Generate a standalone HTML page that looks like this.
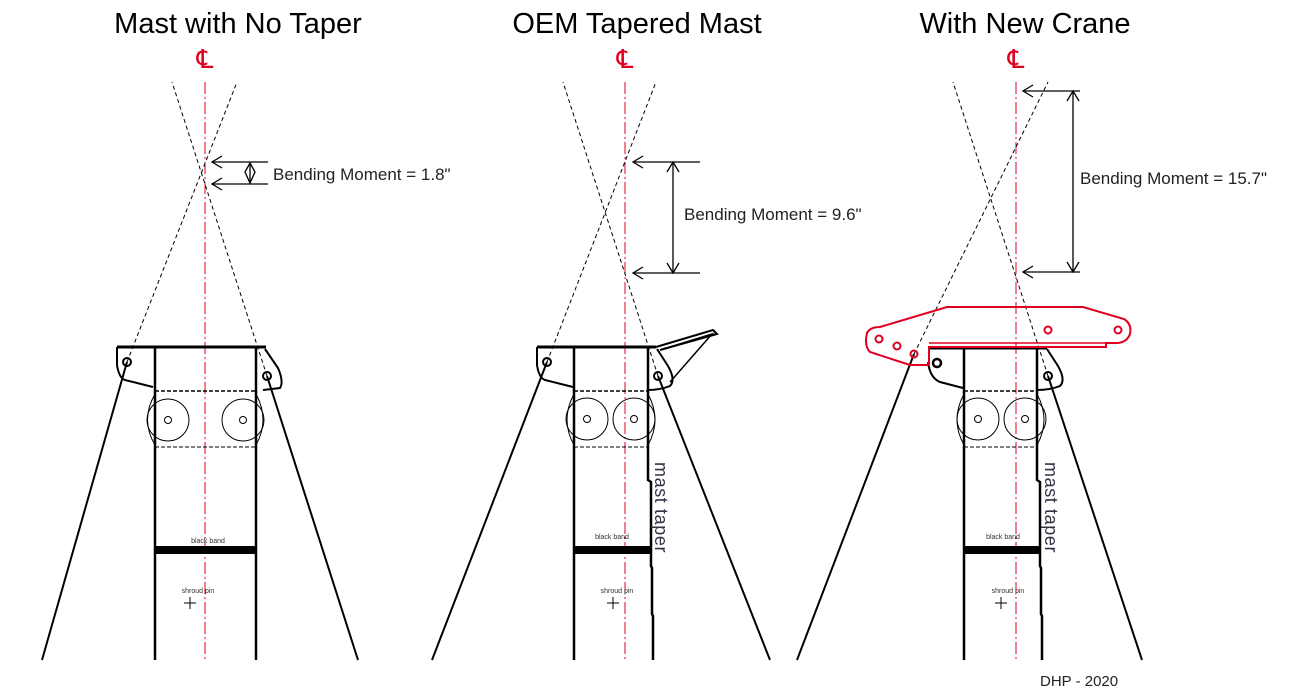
<!DOCTYPE html>
<html><head><meta charset="utf-8"><style>
html,body{margin:0;padding:0;background:#fff;}
svg{display:block;}
.t{font-family:"Liberation Sans",sans-serif;}
</style></head><body>
<svg width="1303" height="699" viewBox="0 0 1303 699" xmlns="http://www.w3.org/2000/svg">
<g class="t" font-size="29" fill="#000">
<text x="238" y="33" text-anchor="middle">Mast with No Taper</text>
<text x="637" y="33" text-anchor="middle">OEM Tapered Mast</text>
<text x="1025" y="33" text-anchor="middle">With New Crane</text>
</g>
<g class="t" font-size="26" fill="#e00020" text-anchor="middle">
<text x="205" y="68">℄</text><text x="625" y="68">℄</text><text x="1016" y="68">℄</text>
</g>
<g stroke="#e00020" stroke-width="1" stroke-dasharray="12,3,2,3">
<line x1="205" y1="82" x2="205" y2="660"/><line x1="625" y1="82" x2="625" y2="660"/><line x1="1016" y1="82" x2="1016" y2="660"/>
</g>
<g stroke="#000" stroke-width="1" stroke-dasharray="4,3" fill="none">
<line x1="127" y1="362" x2="237" y2="82"/><line x1="267" y1="376" x2="172" y2="82"/>
<line x1="547" y1="362" x2="656" y2="82"/><line x1="658" y1="376" x2="563" y2="82"/>
<line x1="914" y1="354" x2="1048" y2="82"/><line x1="1048" y1="376" x2="953" y2="82"/>
</g>
<g stroke="#000" stroke-width="1.3" fill="none">
<line x1="212" y1="162" x2="268" y2="162"/><path d="M222,156 L212,162 L222,168"/>
<line x1="212" y1="184" x2="268" y2="184"/><path d="M222,178 L212,184 L222,190"/>
<line x1="250" y1="163" x2="250" y2="183"/>
<path d="M250,163 L245,172 L250,183 L255,172 Z"/>
<line x1="633" y1="162" x2="700" y2="162"/><path d="M643,156 L633,162 L643,168"/>
<line x1="633" y1="273" x2="700" y2="273"/><path d="M643,267 L633,273 L643,279"/>
<line x1="673" y1="162" x2="673" y2="273"/><path d="M667,172 L673,162 L679,172 M667,263 L673,273 L679,263"/>
<line x1="1023" y1="91" x2="1080" y2="91"/><path d="M1033,85 L1023,91 L1033,97"/>
<line x1="1023" y1="272" x2="1080" y2="272"/><path d="M1033,266 L1023,272 L1033,278"/>
<line x1="1073" y1="91" x2="1073" y2="272"/><path d="M1067,101 L1073,91 L1079,101 M1067,262 L1073,272 L1079,262"/>
</g>
<g class="t" font-size="17" fill="#222">
<text x="273" y="180">Bending Moment = 1.8"</text>
<text x="684" y="220">Bending Moment = 9.6"</text>
<text x="1080" y="184">Bending Moment = 15.7"</text>
</g>
<g stroke="#000" stroke-width="2">
<line x1="127" y1="362" x2="42" y2="660"/><line x1="267" y1="376" x2="358" y2="660"/>
<line x1="547" y1="362" x2="432" y2="660"/><line x1="658" y1="376" x2="770" y2="660"/>
<line x1="914" y1="354" x2="797" y2="660"/><line x1="1048" y1="376" x2="1142" y2="660"/>
</g>
<g stroke="#000" fill="none">
<line x1="117" y1="347" x2="266" y2="347" stroke-width="3"/>
<line x1="155" y1="347" x2="155" y2="660" stroke-width="2.5"/>
<line x1="256" y1="347" x2="256" y2="660" stroke-width="2.5"/>
<path d="M117,347 L117,365 Q119,378 125,380 L153,387" stroke-width="2"/>
<path d="M265,349 L278,368 Q284,382 280,388 L263,390" stroke-width="2"/>
<circle cx="127" cy="362" r="4" stroke-width="2"/><circle cx="267" cy="376" r="4" stroke-width="2"/>
<line x1="155" y1="391" x2="256" y2="391" stroke-width="1.5" stroke-dasharray="4,2"/>
<line x1="155" y1="447" x2="256" y2="447" stroke-width="1" stroke-dasharray="4,2"/>
<circle cx="168" cy="420" r="21"/><circle cx="243" cy="420" r="21"/>
<circle cx="168" cy="420" r="3.5"/><circle cx="243" cy="420" r="3.5"/>
<path d="M155,394 Q140,420 155,445 M256,394 Q270,420 256,445" stroke-width="1"/>
<rect x="155" y="546" width="101" height="8" fill="#000" stroke="none"/>
<path d="M184,603 h12 M190,597 v12" stroke-width="1"/>
</g>
<g stroke="#000" fill="none">
<line x1="537" y1="347" x2="656" y2="347" stroke-width="3"/>
<path d="M656,347 L713,330 L717,334 L660,350" stroke-width="2"/>
<path d="M660,350 L712,334 L670,382" stroke-width="1.5"/>
<line x1="574" y1="347" x2="574" y2="660" stroke-width="2.5"/>
<path d="M648,347 L648,480 L651,482 L651,566 L652,568 L652,614 L653,616 L653,660" stroke-width="2.5"/>
<path d="M537,347 L537,365 Q539,378 545,380 L573,387" stroke-width="2"/>
<path d="M657,349 L668,366 Q676,380 670,386 Q660,390 648,390" stroke-width="2"/>
<circle cx="547" cy="362" r="4" stroke-width="2"/><circle cx="658" cy="376" r="4" stroke-width="2"/>
<line x1="574" y1="391" x2="648" y2="391" stroke-width="1.5" stroke-dasharray="4,2"/>
<line x1="574" y1="447" x2="648" y2="447" stroke-width="1" stroke-dasharray="4,2"/>
<circle cx="587" cy="419" r="21"/><circle cx="634" cy="419" r="21"/>
<circle cx="587" cy="419" r="3.5"/><circle cx="634" cy="419" r="3.5"/>
<path d="M574,394 Q560,420 574,445 M648,394 Q662,420 648,445" stroke-width="1"/>
<rect x="574" y="546" width="76" height="8" fill="#000" stroke="none"/>
<path d="M607,603 h12 M613,597 v12" stroke-width="1"/>
</g>
<g stroke="#000" fill="none">
<line x1="929" y1="348" x2="1047" y2="348" stroke-width="3"/>
<line x1="964" y1="348" x2="964" y2="660" stroke-width="2.5"/>
<path d="M1037,348 L1037,480 L1040,482 L1040,566 L1041,568 L1041,614 L1042,616 L1042,660" stroke-width="2.5"/>
<path d="M928,362 Q930,378 940,382 L963,388" stroke-width="2"/>
<path d="M1047,349 L1058,366 Q1066,380 1060,386 Q1050,390 1037,390" stroke-width="2"/>
<circle cx="937" cy="363" r="4" stroke-width="2.5"/><circle cx="1048" cy="376" r="4" stroke-width="2"/>
<line x1="964" y1="391" x2="1037" y2="391" stroke-width="1.5" stroke-dasharray="4,2"/>
<line x1="964" y1="447" x2="1037" y2="447" stroke-width="1" stroke-dasharray="4,2"/>
<circle cx="978" cy="419" r="21"/><circle cx="1025" cy="419" r="21"/>
<circle cx="978" cy="419" r="3.5"/><circle cx="1025" cy="419" r="3.5"/>
<path d="M964,394 Q950,420 964,445 M1037,394 Q1051,420 1037,445" stroke-width="1"/>
<rect x="964" y="546" width="76" height="8" fill="#000" stroke="none"/>
<path d="M995,603 h12 M1001,597 v12" stroke-width="1"/>
</g>
<g stroke="#e00020" stroke-width="2" fill="none">
<path d="M947,307 L1083,307 L1124,319 Q1132,324 1130,334 Q1127,342 1118,343 L1106,343 L1106,347 L929,347 L929,365 L910,365 L870,352 Q864,346 867,333 Q870,327 880,327 Z"/>
<line x1="929" y1="343" x2="1106" y2="343" stroke-width="1.5"/>
<circle cx="879" cy="339" r="3.5"/><circle cx="897" cy="346" r="3.5"/><circle cx="914" cy="354" r="3.5"/>
<circle cx="1048" cy="330" r="3.5"/><circle cx="1118" cy="330" r="3.5"/>
</g>
<g class="t" font-size="7" fill="#333" text-anchor="middle">
<text x="208" y="543">black band</text><text x="612" y="539">black band</text><text x="1003" y="539">black band</text>
<text x="198" y="593">shroud pin</text><text x="617" y="593">shroud pin</text><text x="1008" y="593">shroud pin</text>
</g>
<g class="t" font-size="18" fill="#334" letter-spacing="0.6">
<text transform="translate(655,462) rotate(90)">mast  taper</text>
<text transform="translate(1045,462) rotate(90)">mast  taper</text>
</g>
<text class="t" x="1040" y="686" font-size="15" fill="#222">DHP - 2020</text>
</svg>
</body></html>
